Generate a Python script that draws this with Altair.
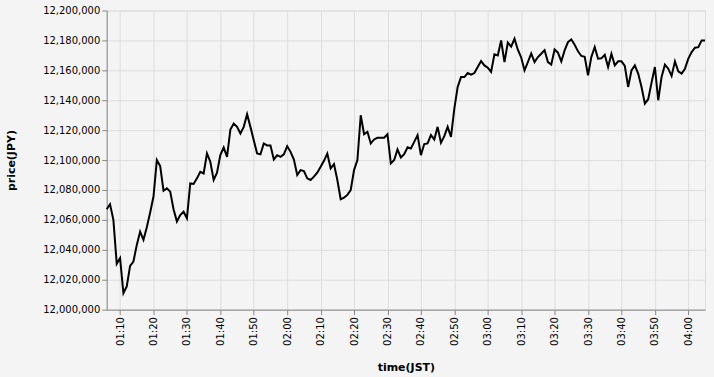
import altair as alt
import pandas as pd

start_time = "2021-01-01T01:06:00"
prices = [
    12067100, 12070500, 12060000, 12030700, 12034400, 12011100, 12015600, 12029300, 12032200, 12043300,
    12052200, 12046700, 12055100, 12064900, 12075600, 12100000, 12096000, 12079500, 12081100, 12078900,
    12067100, 12058900, 12063300, 12065500, 12061100, 12084400, 12084000, 12087800, 12092200, 12091100,
    12104400, 12098900, 12086700, 12091600, 12103300, 12108400, 12102200, 12120400, 12124400, 12122200,
    12117800, 12122200, 12130700, 12122200, 12113300, 12104400, 12103800, 12111100, 12109800, 12109800,
    12100400, 12103300, 12102200, 12103800, 12109300, 12105500, 12100400, 12090000, 12093300, 12092700,
    12087800, 12086700, 12088900, 12091600, 12095500, 12099500, 12104400, 12094400, 12097300, 12086700,
    12073800, 12074900, 12076700, 12080000, 12093300, 12100000, 12130000, 12117300, 12118900, 12111100,
    12113800, 12114900, 12114900, 12114900, 12117300, 12097800, 12100000, 12107100, 12101800, 12104000,
    12108600, 12107800, 12112200, 12116700, 12103300, 12110700, 12111100, 12116700, 12113800, 12122200,
    12111600, 12116000, 12122200, 12115500, 12134400, 12148900, 12155500, 12155500, 12158200, 12157100,
    12158200, 12162200, 12166200, 12163300, 12161800, 12158900, 12170700, 12170000, 12180000, 12165500,
    12178500, 12175800, 12181100, 12173800, 12168600, 12160000, 12165500, 12171300, 12165500, 12168900,
    12171100, 12173500, 12165500, 12163900, 12173900, 12171800, 12166000, 12173300, 12178900, 12180700,
    12177100, 12172700, 12169600, 12169000, 12156700, 12169000, 12175500, 12167800, 12168000, 12170400,
    12162200, 12171100, 12163300, 12166000, 12166000, 12162900, 12148900, 12160000, 12163300, 12157800,
    12148900, 12137800, 12140700, 12151800, 12162200, 12140000, 12155500, 12163800, 12161100, 12156200,
    12166000, 12159300, 12157800, 12161100, 12167800, 12172200, 12175100, 12175500, 12180000, 12180000,
]
y_ticks = [12000000 + 20000 * i for i in range(11)]
x_tick_times = ["01:10", "01:20", "01:30", "01:40", "01:50", "02:00", "02:10", "02:20", "02:30",
                "02:40", "02:50", "03:00", "03:10", "03:20", "03:30", "03:40", "03:50", "04:00"]

times = pd.date_range(start=start_time, periods=len(prices), freq="min")
df = pd.DataFrame({"time": times.strftime("%Y-%m-%dT%H:%M:%S"), "price": prices})

x_values = [
    alt.DateTime(year=2021, month=1, date=1, hours=int(t[:2]), minutes=int(t[3:]))
    for t in x_tick_times
]

chart = (
    alt.Chart(df)
    .mark_line(color="#000000", strokeWidth=2)
    .encode(
        x=alt.X(
            "time:T",
            title="time(JST)",
            axis=alt.Axis(
                values=x_values,
                format="%H:%M",
                labelAngle=270,
                titlePadding=16,
            ),
        ),
        y=alt.Y(
            "price:Q",
            title="price(JPY)",
            scale=alt.Scale(domain=[12000000, 12200000], zero=False, nice=False),
            axis=alt.Axis(values=y_ticks, format=",d", titlePadding=26),
        ),
    )
    .properties(width=600, height=300, background="#f4f4f4")
    .configure(font="DejaVu Sans")
    .configure_axis(labelFont="DejaVu Sans", titleFont="DejaVu Sans")
)

chart.save("out.html", embed_options={"renderer": "svg", "actions": False})
